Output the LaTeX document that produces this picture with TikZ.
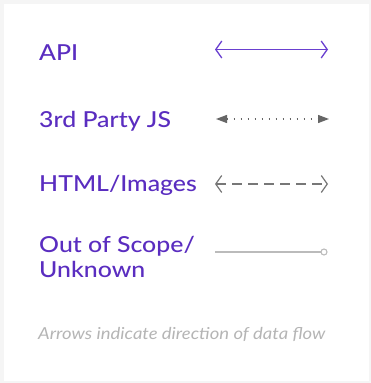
\documentclass[tikz,border=0pt]{standalone}
\usepackage{fontspec}
\setmainfont{Lato}
\IfFontExistsTF{Lato Medium}{\newfontfamily\labfont{Lato Medium}}{%
  \IfFontExistsTF{Lato Semibold}{\newfontfamily\labfont{Lato Semibold}}{\newfontfamily\labfont{Lato}[FakeBold=1.2]}}
\usetikzlibrary{arrows.meta}
\definecolor{lbl}{HTML}{5A2DC0}
\definecolor{apiline}{HTML}{6A40D0}
\definecolor{jsgray}{HTML}{666666}
\definecolor{htmlgray}{HTML}{777777}
\definecolor{oosgray}{HTML}{BBBBBB}
\definecolor{capgray}{HTML}{B5B5B5}
\definecolor{outerbg}{HTML}{F5F5F5}
\tikzset{
  lab/.style={anchor=base west, inner sep=0pt, text=lbl, font=\labfont\fontsize{22}{26}\selectfont, xscale=1.13},
}
\begin{document}
\begin{tikzpicture}[x=1pt,y=1pt]
\useasboundingbox (0,0) rectangle (371,383);
\fill[outerbg] (0,0) rectangle (371,383);
\fill[white] (4,2) rectangle (369,379);
% labels
\node[lab] (api) at (39,383-61) {API};
\node[lab] (js) at (39,383-128) {3rd Party JS};
\node[lab] (html) at (39,383-192) {HTML/Images};
\node[lab] (oos) at (39,383-253) {Out of Scope/};
\node[lab] (unk) at (39,383-278) {Unknown};
% line endpoints
\coordinate (a1) at (215,383-49.5);
\coordinate (a2) at (328,383-49.5);
\coordinate (j1) at (216,383-119);
\coordinate (j2) at (329,383-119);
\coordinate (h1) at (215,383-184);
\coordinate (h2) at (328,383-184);
\coordinate (o1) at (215,383-252);
\coordinate (o2) at (321,383-252);
\draw[apiline, line width=1.3pt, {Straight Barb[length=6pt, width=17pt]}-{Straight Barb[length=6pt, width=17pt]}] (a1) -- (a2);
\draw[jsgray, line width=1.3pt, dash pattern=on 1.3pt off 5.7pt, {Triangle[length=11pt, width=8pt]}-{Triangle[length=11pt, width=8pt]}] (j1) -- (j2);
\draw[htmlgray, line width=1.2pt, dash pattern=on 10pt off 6pt, {Straight Barb[length=6pt, width=17pt]}-{Straight Barb[length=6pt, width=17pt]}] (h1) -- (h2);
\draw[oosgray, line width=1.1pt] (o1) -- (o2);
\draw[oosgray, line width=1.1pt, fill=white] (324,383-252) circle (3);
\node[anchor=base west, inner sep=0pt, text=capgray, font=\itshape\fontsize{16.5}{20}\selectfont, xscale=1.12] (cap) at (38,383-340) {Arrows indicate direction of data flow};
\end{tikzpicture}
\end{document}
